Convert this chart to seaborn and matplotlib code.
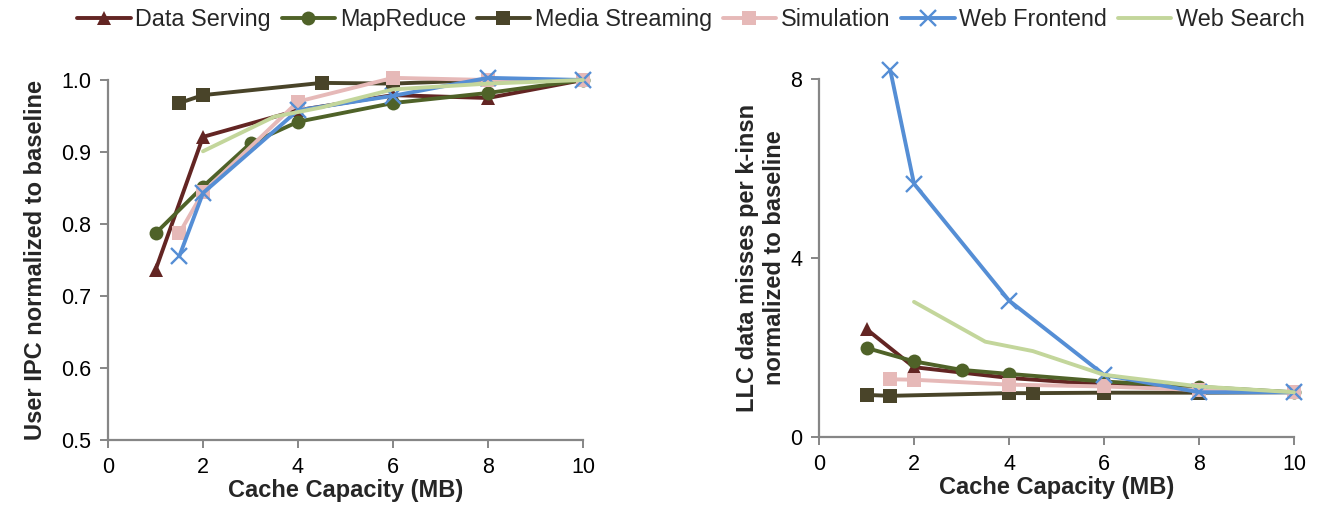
import matplotlib
matplotlib.use("Agg")
import matplotlib.pyplot as plt
import seaborn as sns
import pandas as pd

sns.set_theme(style="white")
plt.rcParams['font.family'] = ['Liberation Sans', 'DejaVu Sans']

series = ["Data Serving", "MapReduce", "Media Streaming", "Simulation", "Web Frontend", "Web Search"]
colors = ["#632523", "#4F6228", "#494429", "#E6B9B8", "#558ED5", "#C3D69B"]
markers = ["^", "o", "s", "s", "x", None]

# Left panel: User IPC normalized to baseline
ipc_x = {
    "Data Serving": [1, 2, 4, 6, 8, 10],
    "MapReduce": [1, 2, 3, 4, 6, 8, 10],
    "Media Streaming": [1.5, 2, 4.5, 6, 8, 10],
    "Simulation": [1.5, 2, 4, 6, 8, 10],
    "Web Frontend": [1.5, 2, 4, 6, 8, 10],
    "Web Search": [2, 3.5, 4.5, 6, 8, 10],
}
ipc_y = {
    "Data Serving": [0.736, 0.921, 0.958, 0.979, 0.975, 1.0],
    "MapReduce": [0.787, 0.852, 0.912, 0.942, 0.968, 0.982, 1.0],
    "Media Streaming": [0.968, 0.979, 0.996, 0.995, 1.0, 1.0],
    "Simulation": [0.787, 0.844, 0.970, 1.003, 1.0, 1.0],
    "Web Frontend": [0.755, 0.843, 0.958, 0.978, 1.003, 1.0],
    "Web Search": [0.901, 0.949, 0.962, 0.987, 0.995, 1.0],
}

# Right panel: LLC data misses per k-insn normalized to baseline
llc_x = {
    "Data Serving": [1, 2, 4, 6, 8, 10],
    "MapReduce": [1, 2, 3, 4, 6, 8, 10],
    "Media Streaming": [1, 1.5, 4, 4.5, 6, 8, 10],
    "Simulation": [1.5, 2, 4, 6, 8, 10],
    "Web Frontend": [1.5, 2, 4, 6, 8, 10],
    "Web Search": [2, 3.5, 4.5, 6, 8, 10],
}
llc_y = {
    "Data Serving": [2.41, 1.56, 1.32, 1.17, 1.05, 1.0],
    "MapReduce": [1.99, 1.69, 1.50, 1.41, 1.24, 1.12, 1.0],
    "Media Streaming": [0.94, 0.92, 0.98, 0.98, 0.99, 0.99, 1.0],
    "Simulation": [1.29, 1.28, 1.17, 1.13, 1.05, 1.0],
    "Web Frontend": [8.2, 5.66, 3.05, 1.39, 1.0, 1.0],
    "Web Search": [3.02, 2.13, 1.92, 1.39, 1.13, 1.0],
}

x_ticks = [0, 2, 4, 6, 8, 10]
ipc_ticks = [0.5, 0.6, 0.7, 0.8, 0.9, 1.0]
ipc_ticklabels = ["0.5", "0.6", "0.7", "0.8", "0.9", "1.0"]
llc_ticks = [0, 4, 8]

fig = plt.figure(figsize=(13.21, 5.08), dpi=100)
ax1 = fig.add_axes([108/1321, 1-440/508, (583-108)/1321, (440-80)/508])
ax2 = fig.add_axes([819/1321, 1-437/508, (1294-819)/1321, (437-79)/508])

spine_c = "#868686"

def draw(ax, xs, ys):
    for name, col, mk in zip(series, colors, markers):
        df = pd.DataFrame({"x": xs[name], "y": ys[name]})
        kw = dict(color=col, linewidth=2.8, label=name, ax=ax, sort=False,
                  estimator=None, clip_on=False)
        if mk is not None:
            if mk == "x":
                kw.update(marker="x", markersize=11.5, markeredgewidth=1.7,
                          markeredgecolor=col)
            else:
                ms = 10 if mk != "^" else 10.5
                kw.update(marker=mk, markersize=ms, markeredgewidth=0,
                          markerfacecolor=col)
        sns.lineplot(data=df, x="x", y="y", **kw)
    ax.set_xlim(0, 10)
    ax.set_xticks(x_ticks)
    for s in ["top", "right"]:
        ax.spines[s].set_visible(False)
    for s in ["left", "bottom"]:
        ax.spines[s].set_color(spine_c)
        ax.spines[s].set_linewidth(1.6)
    ax.tick_params(axis="both", which="both", direction="out", length=6,
                   width=1.4, color=spine_c, labelsize=15.5, labelcolor="black",
                   left=True, bottom=True, pad=6)
    ax.set_xlabel("Cache Capacity (MB)", fontsize=17, fontweight="bold",
                  labelpad=1)
    if ax.get_legend() is not None:
        ax.get_legend().remove()

draw(ax1, ipc_x, ipc_y)
ax1.set_ylim(0.5, 1.0)
ax1.set_yticks(ipc_ticks)
ax1.set_yticklabels(ipc_ticklabels)
ax1.set_ylabel("User IPC normalized to baseline", fontsize=17, fontweight="bold",
               labelpad=10)

draw(ax2, llc_x, llc_y)
ax2.set_ylim(0, 8)
ax2.set_yticks(llc_ticks)
ax2.set_ylabel("LLC data misses per k-insn\nnormalized to baseline", fontsize=17,
               fontweight="bold", labelpad=3, linespacing=1.2)

handles, labels = ax1.get_legend_handles_labels()
fig.legend(handles, labels, loc="center", bbox_to_anchor=(0.523, 0.962),
           ncol=6, frameon=False, fontsize=16.8, handlelength=2.3,
           handletextpad=0.2, columnspacing=0.45, borderaxespad=0)

fig.savefig("out.png", dpi=100)
